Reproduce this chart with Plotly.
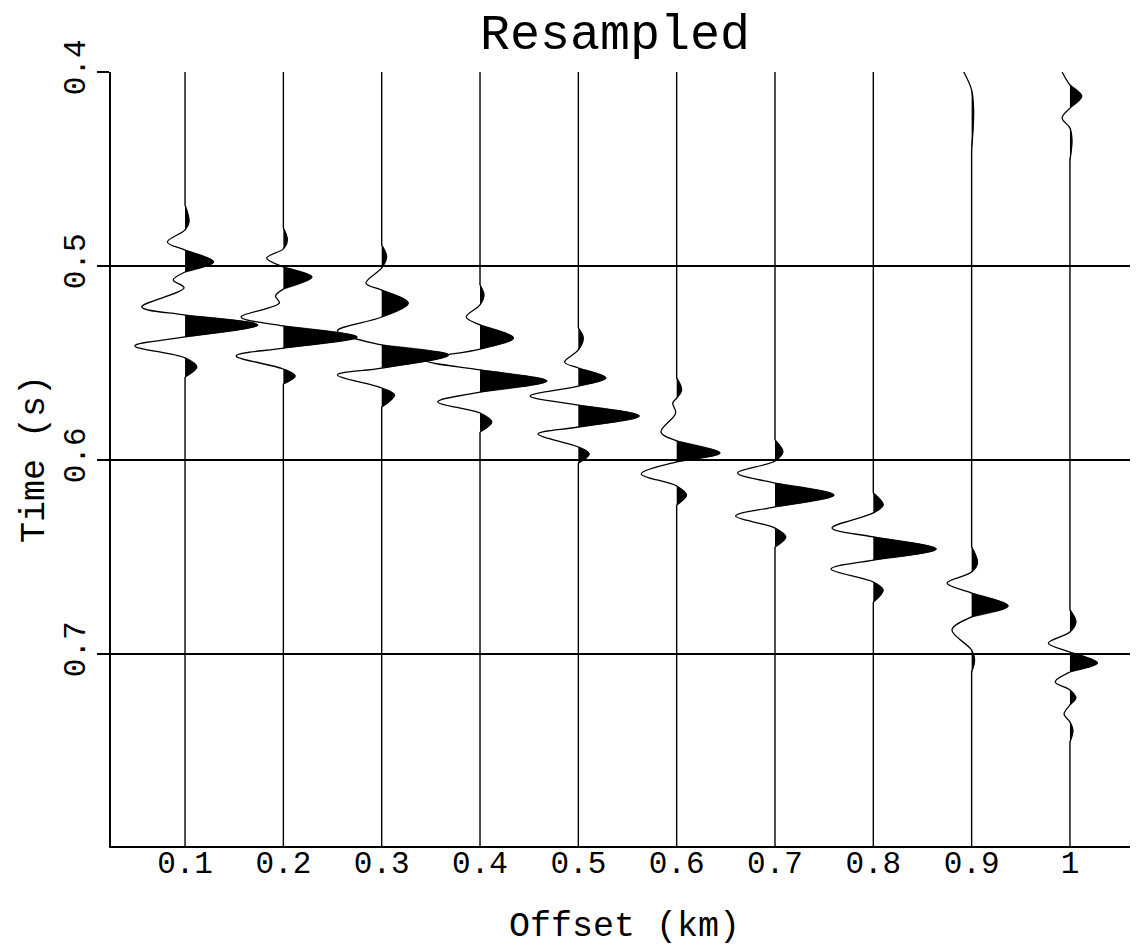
import plotly.graph_objects as go

# ---------------- data (times in ms, amplitudes in m of offset deflection) -------------
offsets = [0.1, 0.2, 0.3, 0.4, 0.5, 0.6, 0.7, 0.8, 0.9, 1.0]
x_ticktext = ["0.1", "0.2", "0.3", "0.4", "0.5", "0.6", "0.7", "0.8", "0.9", "1"]
y_tickvals = [0.4, 0.5, 0.6, 0.7]
y_ticktext = ["0.4", "0.5", "0.6", "0.7"]

t_01 = [468.6, 477.3, 481.4, 487.6, 491.8, 497.9, 503.1, 507.2, 511.3, 521.1, 525.3, 530.4, 536.6, 541.2, 547.4, 552.1, 557.2]
a_01 = [0, 4, 0, -18, 0, 29, 0, -12, -1, -44, 0, 74, 0, -51, 0, 12, 0]

t_02 = [480.4, 486.6, 491.2, 495.9, 500.5, 505.7, 511.9, 515.5, 519.1, 526.3, 530.9, 536.6, 542.3, 546.4, 553.1, 556.7, 560.8]
a_02 = [0, 4, 0, -17, 0, 29, 0, -8, -4, -43, 0, 75, 0, -48, 0, 12, 0]

t_03 = [489.2, 495.4, 501.0, 508.8, 512.4, 519.1, 526.3, 533.5, 540.7, 545.9, 552.6, 556.2, 562.9, 566.5, 572.7]
a_03 = [0, 5, 0, -16, 0, 27, 0, -45, 0, 68, 0, -45, 0, 13, 0]

t_04 = [509.8, 515.0, 520.1, 526.3, 530.4, 537.1, 542.8, 548.5, 553.6, 559.3, 565.0, 570.1, 575.8, 580.4, 585.6]
a_04 = [0, 4, 0, -14, 0, 34, 0, -56, 0, 68, 0, -43, 0, 12, 0]

t_05 = [532.0, 537.1, 543.3, 549.5, 552.6, 557.7, 561.9, 567.0, 571.7, 577.3, 583.0, 586.6, 593.3, 596.9, 601.6]
a_05 = [0, 5, 0, -14, 0, 28, 0, -49, 0, 62, 0, -41, 0, 11, 0]

t_06 = [557.7, 563.9, 568.1, 570.6, 575.8, 585.6, 590.2, 596.4, 601.0, 607.2, 613.4, 618.1, 623.2]
a_06 = [0, 5, 0, -4, -1, -16, 0, 44, 0, -36, 0, 10, 0]

t_07 = [589.7, 595.9, 600.5, 606.7, 611.9, 618.1, 624.2, 628.9, 635.1, 639.7, 644.9]
a_07 = [0, 8, 0, -38, 0, 60, 0, -40, 0, 11, 0]

t_08 = [617.0, 623.2, 627.3, 635.1, 639.7, 645.9, 651.6, 656.2, 662.9, 667.0, 673.2]
a_08 = [0, 10, 0, -42, 0, 64, 0, -43, 0, 10, 0]

t_09 = [400.0, 409.3, 420.0, 440.0, 644.9, 653.1, 657.8, 663.4, 668.6, 675.3, 680.9, 687.6, 698.0, 703.1, 709.3]
a_09 = [-8, 0, 2, 0, 0, 6, 0, -25, 0, 37, 0, -20, 0, 3, 0]

t_10 = [400.0, 406.7, 412.4, 418.6, 423.7, 428.9, 435.1, 445.4,
        677.3, 683.5, 688.7, 694.4, 699.0, 704.7, 709.3, 714.5, 718.6, 722.7, 726.3, 731.0, 735.1, 739.2, 745.4]
a_10 = [-8, 0, 12, 0, -8, 0, 2, 0,
        0, 6, 0, -22, 0, 28, 0, -15, 0, 6, 0, -6, 0, 3, 0]

times = [t_01, t_02, t_03, t_04, t_05, t_06, t_07, t_08, t_09, t_10]
amps = [a_01, a_02, a_03, a_04, a_05, a_06, a_07, a_08, a_09, a_10]

T_START, T_END = 400.0, 800.0
X_RANGE = [0.0247, 1.0692]
Y_RANGE = [0.7990, 0.4]

FONT = "Liberation Mono"
PAGE = 8  # default body margin of the html page

fig = go.Figure()

for off, tt, aa in zip(offsets, times, amps):
    ts = list(tt)
    av = list(aa)
    if ts[0] > T_START:
        ts = [T_START] + ts
        av = [0] + av
    if ts[-1] < T_END:
        ts = ts + [T_END]
        av = av + [0]
    xs = [off + a / 1000.0 for a in av]
    ys = [t / 1000.0 for t in ts]
    n = len(av)

    # flat (baseline) stretches as straight lines, wavelets as splines
    fx, fy, sx, sy = [], [], [], []
    group = []
    for k in range(n - 1):
        if av[k] == 0 and av[k + 1] == 0:
            fx += [xs[k], xs[k + 1], None]
            fy += [ys[k], ys[k + 1], None]
            if len(group) > 1:
                sx += [xs[g] for g in group] + [None]
                sy += [ys[g] for g in group] + [None]
            group = []
        else:
            if not group:
                group = [k]
            group.append(k + 1)
    if len(group) > 1:
        sx += [xs[g] for g in group] + [None]
        sy += [ys[g] for g in group] + [None]

    # positive lobes filled black
    i = 0
    while i < n:
        if av[i] == 0:
            j = i + 1
            while j < n and av[j] > 0:
                j += 1
            if j < n and av[j] == 0 and j > i + 1:
                fig.add_trace(go.Scatter(
                    x=xs[i:j + 1], y=ys[i:j + 1], mode="lines",
                    line=dict(shape="spline", width=0.5, color="black"),
                    fill="toself", fillcolor="black",
                    hoverinfo="skip", showlegend=False))
                i = j
                continue
        i += 1

    fig.add_trace(go.Scatter(
        x=fx, y=fy, mode="lines", connectgaps=False,
        line=dict(width=1.4, color="black"),
        hoverinfo="skip", showlegend=False))
    fig.add_trace(go.Scatter(
        x=sx, y=sy, mode="lines", connectgaps=False,
        line=dict(shape="spline", width=1.3, color="black"),
        hoverinfo="skip", showlegend=False))

W, H = 1138 - PAGE, 951 - PAGE
fig.update_layout(
    width=W, height=H, autosize=False,
    margin=dict(l=111 - PAGE, r=0, t=72 - PAGE, b=951 - 846, autoexpand=False),
    paper_bgcolor="white", plot_bgcolor="white",
    title=dict(text="Resampled", x=(615 - PAGE) / W, xanchor="center",
               y=1.0 - 6.0 / H, yanchor="top", xref="container", yref="container",
               font=dict(family=FONT, size=50, color="black")),
)
fig.update_xaxes(
    range=X_RANGE, tickvals=offsets, ticktext=x_ticktext, automargin=False,
    showline=True, linecolor="black", linewidth=2, mirror=False,
    showgrid=False, zeroline=False, ticks="", ticklabelstandoff=-12,
    tickfont=dict(family=FONT, size=31, color="black"),
    title=dict(text="Offset (km)", font=dict(family=FONT, size=35, color="black"), standoff=30),
)
fig.update_yaxes(
    range=Y_RANGE, tickvals=y_tickvals, ticktext=y_ticktext, automargin=False,
    showline=True, linecolor="black", linewidth=2, mirror=False,
    showgrid=True, gridcolor="black", gridwidth=2, zeroline=False,
    ticks="outside", ticklen=12, tickwidth=2, tickcolor="black", tickangle=-90,
    tickfont=dict(family=FONT, size=31, color="black"),
    title=dict(text="Time (s)", font=dict(family=FONT, size=35, color="black"), standoff=3),
)

fig.write_html("out.html")
